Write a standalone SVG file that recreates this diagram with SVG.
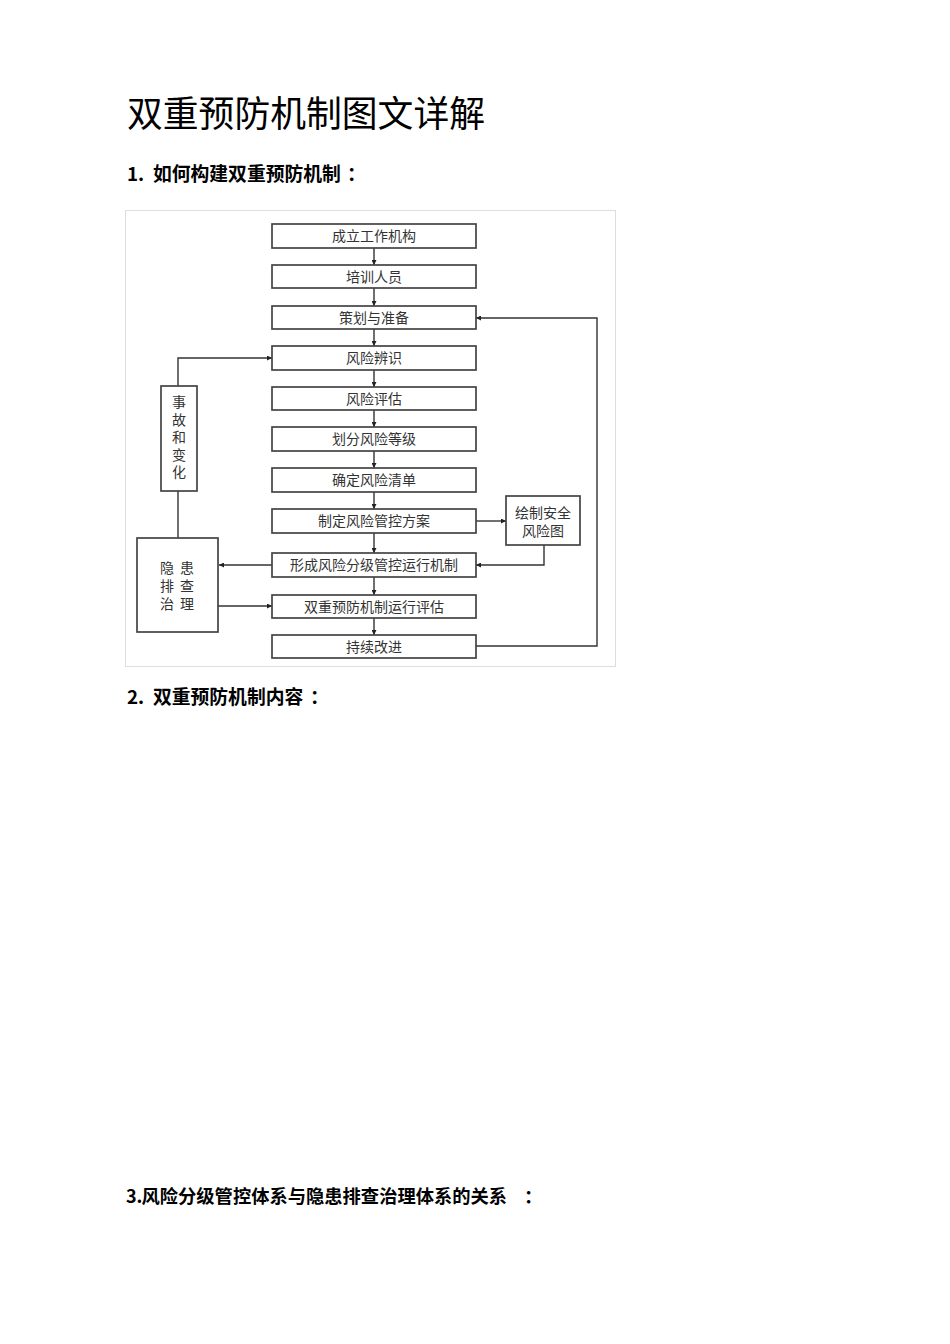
<svg xmlns="http://www.w3.org/2000/svg" width="950" height="1344" viewBox="0 0 950 1344">
<defs>
<marker id="ah" viewBox="0 0 10 10" refX="10" refY="5" markerWidth="5" markerHeight="5" orient="auto" markerUnits="userSpaceOnUse">
<path d="M0,0 L10,5 L0,10 z" fill="#222"/>
</marker>
<style>
.h{font-family:"Noto Sans CJK SC","Liberation Sans",sans-serif;fill:#000}
.bx{fill:#fff;stroke:#444;stroke-width:1.7}
.t{font-family:"Noto Sans CJK SC","Liberation Sans",sans-serif;font-size:14px;fill:#333;text-anchor:middle}
.c{fill:none;stroke:#333;stroke-width:1.4}
</style>
</defs>
<rect width="950" height="1344" fill="#fff"/>
<text class="h" x="127" y="127" font-size="35.8">双重预防机制图文详解</text>
<text class="h" x="127" y="181" font-size="18.8" font-weight="bold">1.<tspan x="153">如何构建双重预防机制</tspan><tspan x="347">：</tspan></text>
<text class="h" x="127" y="704" font-size="18.8" font-weight="bold">2.<tspan x="153">双重预防机制内容</tspan><tspan x="310">：</tspan></text>
<text class="h" y="1203" font-weight="bold"><tspan x="126" font-size="18">3.</tspan><tspan x="141.5" font-size="18.3">风险分级管控体系与隐患排查治理体系的关系</tspan><tspan x="524" font-size="18.5">：</tspan></text>

<rect x="125.5" y="210.5" width="490" height="456" fill="#fff" stroke="#ddd" stroke-width="1"/>

<g id="connectors">
<line class="c" x1="374" y1="248" x2="374" y2="265" marker-end="url(#ah)"/>
<line class="c" x1="374" y1="288" x2="374" y2="306" marker-end="url(#ah)"/>
<line class="c" x1="374" y1="329" x2="374" y2="346" marker-end="url(#ah)"/>
<line class="c" x1="374" y1="370" x2="374" y2="387" marker-end="url(#ah)"/>
<line class="c" x1="374" y1="410" x2="374" y2="427" marker-end="url(#ah)"/>
<line class="c" x1="374" y1="451" x2="374" y2="468" marker-end="url(#ah)"/>
<line class="c" x1="374" y1="492" x2="374" y2="509" marker-end="url(#ah)"/>
<line class="c" x1="374" y1="533" x2="374" y2="553" marker-end="url(#ah)"/>
<line class="c" x1="374" y1="577" x2="374" y2="595" marker-end="url(#ah)"/>
<line class="c" x1="374" y1="618" x2="374" y2="635" marker-end="url(#ah)"/>
<polyline class="c" points="178,386 178,358 272,358" marker-end="url(#ah)"/>
<line class="c" x1="178" y1="491" x2="178" y2="538"/>
<line class="c" x1="272" y1="565" x2="219" y2="565" marker-end="url(#ah)"/>
<line class="c" x1="218" y1="606" x2="272" y2="606" marker-end="url(#ah)"/>
<line class="c" x1="476" y1="521" x2="506" y2="521" marker-end="url(#ah)"/>
<polyline class="c" points="544,545 544,565 476,565" marker-end="url(#ah)"/>
<polyline class="c" points="476,646 597,646 597,318 476,318" marker-end="url(#ah)"/>
</g>

<g id="n1"><rect class="bx" x="272" y="224" width="204" height="24"/><text class="t" x="374" y="241">成立工作机构</text></g>
<g id="n2"><rect class="bx" x="272" y="265" width="204" height="23"/><text class="t" x="374" y="281.5">培训人员</text></g>
<g id="n3"><rect class="bx" x="272" y="306" width="204" height="23"/><text class="t" x="374" y="322.5">策划与准备</text></g>
<g id="n4"><rect class="bx" x="272" y="346" width="204" height="24"/><text class="t" x="374" y="363">风险辨识</text></g>
<g id="n5"><rect class="bx" x="272" y="387" width="204" height="23"/><text class="t" x="374" y="403.5">风险评估</text></g>
<g id="n6"><rect class="bx" x="272" y="427" width="204" height="24"/><text class="t" x="374" y="444">划分风险等级</text></g>
<g id="n7"><rect class="bx" x="272" y="468" width="204" height="24"/><text class="t" x="374" y="485">确定风险清单</text></g>
<g id="n8"><rect class="bx" x="272" y="509" width="204" height="24"/><text class="t" x="374" y="526">制定风险管控方案</text></g>
<g id="n9"><rect class="bx" x="272" y="553" width="204" height="24"/><text class="t" x="374" y="570">形成风险分级管控运行机制</text></g>
<g id="n10"><rect class="bx" x="272" y="595" width="204" height="23"/><text class="t" x="374" y="611.5">双重预防机制运行评估</text></g>
<g id="n11"><rect class="bx" x="272" y="635" width="204" height="23"/><text class="t" x="374" y="651.5">持续改进</text></g>
<g id="n12"><rect class="bx" x="161" y="386" width="36" height="105"/>
<text class="t" x="179" y="407">事</text><text class="t" x="179" y="424.5">故</text><text class="t" x="179" y="442">和</text><text class="t" x="179" y="459.5">变</text><text class="t" x="179" y="477">化</text></g>
<g id="n13"><rect class="bx" x="137" y="538" width="81" height="94"/>
<text class="t" x="167" y="573">隐</text><text class="t" x="187" y="573">患</text>
<text class="t" x="167" y="591">排</text><text class="t" x="187" y="591">查</text>
<text class="t" x="167" y="609">治</text><text class="t" x="187" y="609">理</text></g>
<g id="n14"><rect class="bx" x="506" y="496" width="74" height="49"/>
<text class="t" x="543" y="518">绘制安全</text><text class="t" x="543" y="536">风险图</text></g>
</svg>
